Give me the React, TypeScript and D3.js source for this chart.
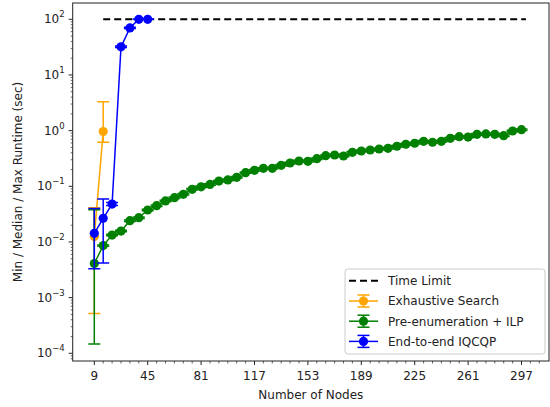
import React from 'react'
import * as d3 from 'd3'

// median runtimes with min / max (seconds)
const exhaustiveNodes = [9, 15]
const exhaustiveMed = [0.0125, 0.96]
const exhaustiveMin = [0.00052, 0.62]
const exhaustiveMax = [0.041, 3.3]

const iqcqpNodes = [9, 15, 21, 27, 33, 39, 45]
const iqcqpMed = [0.0143, 0.0266, 0.048, 32, 70, 100, 100]
const iqcqpMin = [0.0033, 0.0042, 0.045, 31, 68, 100, 100]
const iqcqpMax = [0.04, 0.059, 0.051, 33, 72, 100, 100]

const ilpNodes = [
  9, 15, 21, 27, 33, 39, 45, 51, 57, 63, 69, 75, 81, 87, 93, 99, 105, 111,
  117, 123, 129, 135, 141, 147, 153, 159, 165, 171, 177, 183, 189, 195, 201,
  207, 213, 219, 225, 231, 237, 243, 249, 255, 261, 267, 273, 279, 285, 291, 297,
]
const ilpMed = [
  0.0041, 0.0086, 0.0133, 0.0157, 0.0241, 0.0273, 0.0375, 0.0449, 0.0545,
  0.0624, 0.0718, 0.0883, 0.098, 0.108, 0.124, 0.13, 0.145, 0.176,
  0.194, 0.21, 0.21, 0.238, 0.262, 0.285, 0.281, 0.313, 0.355, 0.365, 0.35,
  0.408, 0.431, 0.449, 0.468, 0.482, 0.524, 0.569, 0.593, 0.643, 0.618,
  0.643, 0.728, 0.778, 0.767, 0.859, 0.871, 0.859, 0.811, 0.984, 1.04,
]
const ilpMin = [0.000147, ...ilpMed.slice(1).map(v => v * 0.97)]
const ilpMax = [0.038, ...ilpMed.slice(1).map(v => v * 1.03)]

const timeLimit = 100
const timeLimitRange = [15, 300]

const xTicks = [9, 45, 81, 117, 153, 189, 225, 261, 297]
const yTickExps = [-4, -3, -2, -1, 0, 1, 2]

const font = 'DejaVu Sans, sans-serif'

const left = 72.7, right = 549, top = 3, bottom = 361

const x = d3.scaleLinear().domain([9, 297]).range([94.3, 521.5])
const y = d3.scaleLog().domain([1e-4, 100]).range([353.3, 19.3])

function Series({ nodes, med, lo, hi, color }) {
  const line = d3.line<number>().x((d, i) => x(nodes[i])).y(d => y(d))
  return (
    <g>
      {nodes.map((n, i) => (
        <g key={'e' + i} stroke={color} strokeWidth={1.5}>
          <line x1={x(n)} x2={x(n)} y1={y(lo[i])} y2={y(hi[i])} />
          <line x1={x(n) - 6} x2={x(n) + 6} y1={y(lo[i])} y2={y(lo[i])} />
          <line x1={x(n) - 6} x2={x(n) + 6} y1={y(hi[i])} y2={y(hi[i])} />
        </g>
      ))}
      <path d={line(med) || ''} fill="none" stroke={color} strokeWidth={1.5} />
      {nodes.map((n, i) => (
        <circle key={'m' + i} cx={x(n)} cy={y(med[i])} r={4.6} fill={color} />
      ))}
    </g>
  )
}

function LegendHandle({ lx, ly, color }) {
  return (
    <g stroke={color} strokeWidth={1.5}>
      <line x1={lx} x2={lx + 29} y1={ly} y2={ly} />
      <line x1={lx + 14.5} x2={lx + 14.5} y1={ly - 6} y2={ly + 6} />
      <line x1={lx + 8.5} x2={lx + 20.5} y1={ly - 6} y2={ly - 6} />
      <line x1={lx + 8.5} x2={lx + 20.5} y1={ly + 6} y2={ly + 6} />
      <circle cx={lx + 14.5} cy={ly} r={4.6} fill={color} stroke="none" />
    </g>
  )
}

export default function App() {
  const yMinor: number[] = []
  for (let e = -5; e <= 2; e++) {
    for (let k = 2; k <= 9; k++) {
      const v = k * Math.pow(10, e)
      const py = y(v)
      if (py >= top && py <= bottom) yMinor.push(v)
    }
  }
  const xMinor: number[] = []
  for (let n = 9; n <= 309; n += 6) {
    if (!xTicks.includes(n) && x(n) <= right) xMinor.push(n)
  }

  const legendItems = [
    { label: 'Exhaustive Search', color: 'orange' },
    { label: 'Pre-enumeration + ILP', color: 'green' },
    { label: 'End-to-end IQCQP', color: 'blue' },
  ]

  return (
    <svg width={550} height={407} style={{ position: 'absolute', left: 0, top: 0 }}
      fontFamily={font}>
      <rect width={550} height={407} fill="white" />
      <defs>
        <clipPath id="plot">
          <rect x={left} y={top} width={right - left} height={bottom - top} />
        </clipPath>
      </defs>

      <g clipPath="url(#plot)">
        <line x1={x(timeLimitRange[0])} x2={x(timeLimitRange[1])} y1={y(timeLimit)} y2={y(timeLimit)}
          stroke="black" strokeWidth={2} strokeDasharray="7,4" />
        <Series nodes={exhaustiveNodes} med={exhaustiveMed} lo={exhaustiveMin} hi={exhaustiveMax} color="orange" />
        <Series nodes={ilpNodes} med={ilpMed} lo={ilpMin} hi={ilpMax} color="green" />
        <Series nodes={iqcqpNodes} med={iqcqpMed} lo={iqcqpMin} hi={iqcqpMax} color="blue" />
      </g>

      <rect x={left} y={top} width={right - left} height={bottom - top} fill="none" stroke="#222" strokeWidth={1} />

      {/* y axis */}
      {yTickExps.map(e => (
        <g key={e}>
          <line x1={left - 4} x2={left} y1={y(Math.pow(10, e))} y2={y(Math.pow(10, e))} stroke="#222" />
          <text x={left - 8} y={y(Math.pow(10, e)) + 4} textAnchor="end" fontSize={12} fill="#222">
            10<tspan dy={-6} fontSize={8.5}>{e < 0 ? '\u2212' + Math.abs(e) : e}</tspan>
          </text>
        </g>
      ))}
      {yMinor.map((v, i) => (
        <line key={i} x1={left - 2} x2={left} y1={y(v)} y2={y(v)} stroke="#222" strokeWidth={0.7} />
      ))}

      {/* x axis */}
      {xTicks.map(t => (
        <g key={t}>
          <line x1={x(t)} x2={x(t)} y1={bottom} y2={bottom + 4} stroke="#222" />
          <text x={x(t)} y={bottom + 19} textAnchor="middle" fontSize={12} fill="#222">{t}</text>
        </g>
      ))}
      {xMinor.map(n => (
        <line key={n} x1={x(n)} x2={x(n)} y1={bottom} y2={bottom + 2.5} stroke="#222" strokeWidth={0.7} />
      ))}

      <text x={(left + right) / 2} y={399} textAnchor="middle" fontSize={12} fill="#222">Number of Nodes</text>
      <text transform={`translate(22,${(top + bottom) / 2}) rotate(-90)`} textAnchor="middle" fontSize={12} fill="#222">
        Min / Median / Max Runtime (sec)
      </text>

      {/* legend */}
      <rect x={345} y={269} width={200} height={85} rx={3} fill="white" fillOpacity={0.8} stroke="#ccc" />
      <line x1={349} x2={378} y1={280.7} y2={280.7} stroke="black" strokeWidth={2} strokeDasharray="7,4" />
      <text x={388} y={285} fontSize={12} fill="#222">Time Limit</text>
      {legendItems.map((d, i) => (
        <g key={d.label}>
          <LegendHandle lx={349} ly={301 + i * 20.2} color={d.color} />
          <text x={388} y={305.3 + i * 20.2} fontSize={12} fill="#222">{d.label}</text>
        </g>
      ))}
    </svg>
  )
}
